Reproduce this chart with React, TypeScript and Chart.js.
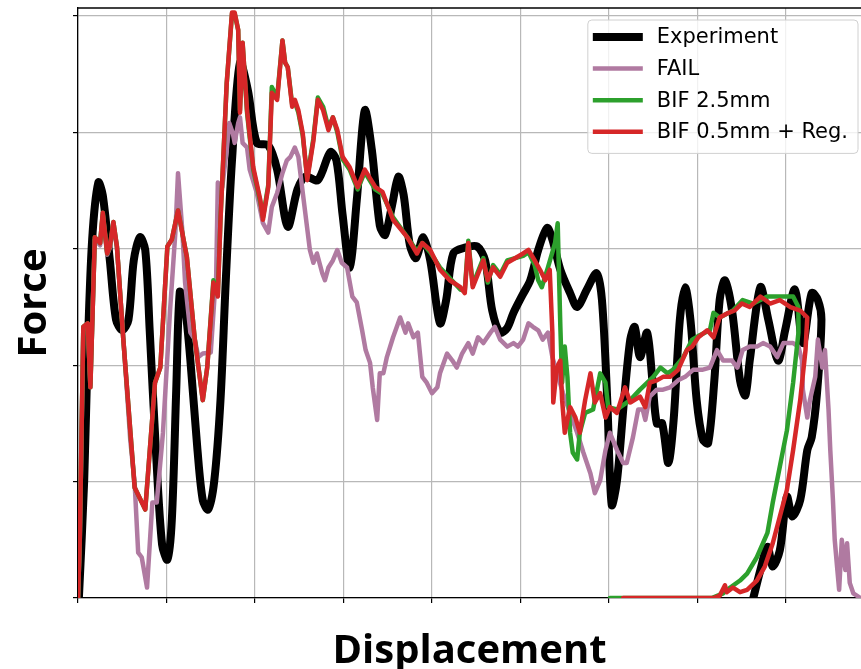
import React, { useEffect, useRef } from 'react';
import { Chart, registerables } from 'chart.js';

Chart.register(...registerables);

// Displacement / Force pairs (x: 10 units per grid step, y: 10 units per grid step)
const EXPERIMENT: [number, number][] = [
  [0.1, 0], [0.7, 10.1], [1.1, 21.3], [1.6, 30.8], [2.3, 35.7], [2.8, 34.6], [3.6, 29.0], [4.3, 23.9], [5.0, 23.0], [5.7, 23.9],
  [6.3, 29.0], [7.0, 31.0], [7.6, 29.9], [8.1, 23.0], [8.8, 12.7], [9.5, 4.6], [10.1, 3.3], [10.6, 6.7], [11.1, 17.9], [11.5, 26.3],
  [12.0, 25.6], [12.7, 20.4], [13.5, 12.7], [14.1, 8.4], [14.7, 7.6], [15.4, 10.1], [16.1, 17.0], [16.7, 27.3], [17.4, 37.6], [18.3, 46.0],
  [19.2, 43.6], [20.2, 39.1], [21.5, 38.9], [22.5, 36.8], [23.7, 31.9], [24.8, 35.1], [25.7, 36.2], [27.1, 35.9], [28.5, 38.3], [29.2, 37.6],
  [29.9, 32.9], [30.7, 28.4], [31.5, 34.2], [32.4, 41.9], [33.2, 38.5], [34.1, 32.0], [34.7, 31.2], [35.5, 33.8], [36.2, 36.2], [36.8, 34.6],
  [37.5, 30.3], [38.2, 29.2], [39.0, 31.0], [39.8, 29.0], [40.9, 23.6], [41.6, 25.6], [42.4, 29.6], [43.7, 30.1], [45.1, 30.2], [46.0, 29.0],
  [46.8, 24.7], [47.7, 22.8], [48.5, 23.2], [49.2, 24.5], [50.2, 26.0], [51.1, 27.3], [52.0, 29.9], [53.0, 31.8], [53.6, 30.8], [54.5, 28.2],
  [55.6, 26.2], [56.4, 25.0], [57.5, 26.5], [58.6, 27.9], [59.2, 25.6], [59.8, 17.0], [60.3, 8.0], [60.9, 10.1], [61.7, 17.0], [62.4, 22.2],
  [62.9, 23.3], [63.5, 20.7], [64.3, 22.8], [64.9, 18.7], [65.4, 15.0], [66.0, 15.0], [66.7, 11.6], [67.3, 15.3], [68.0, 23.9], [68.6, 26.7],
  [69.2, 23.9], [69.9, 17.0], [70.6, 13.6], [71.2, 13.3], [71.9, 18.7], [72.5, 25.6], [73.1, 27.3], [73.9, 24.7], [74.8, 18.7], [75.4, 17.4],
  [75.9, 20.4], [77.1, 26.7], [78.0, 23.9], [79.1, 20.4], [79.9, 23.0], [81.0, 26.5], [81.9, 21.9], [82.9, 26.2], [83.6, 25.6], [84.0, 23.9],
  [83.5, 17.6], [82.9, 13.8], [82.4, 12.7], [81.6, 8.4], [80.7, 7.0], [80.1, 8.7], [79.3, 4.1], [78.5, 2.7], [77.9, 4.4], [77.1, 2.4], [76.3, 0],
];

const FAIL: [number, number][] = [
  [0, 0], [0.2, 5.0], [0.6, 23.0], [1.1, 23.5], [1.4, 18.3], [1.9, 30.8], [2.5, 30.3], [2.8, 32.9], [3.3, 29.5], [3.6, 30.1],
  [4.0, 32.0], [4.4, 30.1], [5.1, 22.6], [5.9, 13.6], [6.4, 9.9], [6.8, 3.9], [7.2, 3.5], [7.8, 0.9], [8.4, 8.2], [8.9, 8.2],
  [9.6, 14.2], [10.4, 24.7], [11.0, 31.4], [11.3, 36.5], [11.8, 31.4], [12.1, 27.1], [12.7, 22.8], [13.2, 22.2], [13.6, 20.7], [14.1, 21.0],
  [15.0, 21.1], [15.4, 25.6], [15.6, 27.1], [15.8, 35.7], [16.3, 35.3], [16.8, 38.5], [17.1, 40.8], [17.5, 39.9], [17.7, 39.1], [18.1, 40.8],
  [18.3, 41.3], [18.6, 39.1], [19.1, 38.7], [19.4, 36.8], [20.2, 34.8], [20.9, 32.2], [21.5, 31.4], [21.9, 33.6], [22.5, 34.8], [23.1, 36.5],
  [23.6, 37.6], [24.0, 37.9], [24.5, 38.7], [24.9, 37.9], [25.4, 34.8], [26.2, 29.9], [26.6, 28.8], [27.0, 29.6], [27.6, 27.9], [27.9, 27.3],
  [28.3, 28.4], [28.8, 29.0], [29.3, 29.9], [29.8, 28.8], [30.4, 28.4], [31.0, 25.9], [31.5, 25.4], [32.1, 23.0], [32.5, 21.3], [33.0, 20.2],
  [33.3, 18.1], [33.8, 15.3], [34.1, 19.3], [34.5, 19.3], [34.9, 20.7], [35.6, 22.4], [36.4, 24.1], [37.0, 22.8], [37.3, 23.6], [37.9, 22.4],
  [38.4, 22.8], [38.9, 19.0], [39.4, 18.5], [40.0, 17.6], [40.6, 18.1], [40.9, 19.3], [41.7, 21.0], [42.3, 20.4], [42.8, 19.8], [43.4, 21.0],
  [44.1, 21.9], [44.6, 21.0], [45.2, 22.4], [45.8, 21.9], [46.6, 22.8], [47.1, 23.3], [47.7, 22.2], [48.5, 21.6], [49.2, 21.9], [49.7, 21.6],
  [50.3, 22.2], [50.9, 23.6], [51.4, 23.3], [52.0, 23.0], [52.5, 22.2], [53.1, 22.8], [53.6, 20.7], [54.1, 19.4], [54.8, 17.6], [55.6, 15.9],
  [56.4, 14.2], [57.1, 12.5], [57.9, 10.7], [58.4, 9.0], [59.0, 10.1], [59.6, 12.7], [60.1, 14.2], [60.9, 12.7], [61.6, 11.6], [62.0, 11.6],
  [62.7, 13.8], [63.3, 16.2], [63.8, 16.2], [64.1, 15.3], [64.6, 17.3], [65.4, 17.9], [66.1, 17.9], [66.9, 18.1], [67.8, 18.7], [68.6, 19.0],
  [69.5, 19.6], [70.5, 19.6], [71.4, 19.8], [72.2, 21.3], [72.9, 20.4], [73.9, 20.4], [74.5, 19.8], [75.1, 21.3], [75.9, 21.6], [76.7, 21.6],
  [77.4, 21.9], [78.2, 21.6], [79.0, 20.7], [79.7, 21.9], [80.8, 21.9], [81.4, 21.6], [81.8, 20.4], [81.9, 17.9], [82.4, 15.5], [82.7, 17.0],
  [83.3, 19.0], [83.6, 22.2], [84.1, 19.8], [84.4, 21.3], [84.8, 16.2], [85.0, 12.7], [85.3, 8.4], [85.5, 5.0], [85.8, 2.4], [86.0, 0.7],
  [86.3, 5.0], [86.4, 4.4], [86.7, 2.4], [86.9, 4.7], [87.2, 1.3], [87.6, 0.4], [88.4, 0],
];

const BIF_25: [number, number][] = [
  [0, 0], [0.2, 5.0], [0.6, 23.3], [1.1, 23.6], [1.4, 18.1], [1.9, 31.0], [2.5, 30.5], [2.8, 33.1], [3.3, 29.6], [3.6, 30.2],
  [4.0, 32.3], [4.4, 30.2], [5.1, 22.4], [6.4, 9.5], [7.6, 7.6], [8.7, 18.5], [9.3, 19.8], [10.1, 30.2], [10.6, 30.8], [11.3, 33.3],
  [12.3, 29.3], [13.2, 22.2], [14.1, 17.0], [14.6, 19.8], [15.3, 27.3], [15.8, 26.1], [16.1, 32.5], [16.8, 44.2], [17.4, 50.2], [17.7, 50.2],
  [18.1, 48.8], [18.3, 41.9], [18.6, 47.7], [19.1, 41.7], [19.8, 36.8], [20.6, 34.0], [20.9, 32.7], [21.5, 35.5], [21.9, 43.9], [22.5, 43.0],
  [23.1, 47.9], [23.4, 46.0], [23.7, 45.6], [24.2, 42.4], [24.5, 42.6], [24.9, 41.7], [25.4, 39.7], [25.9, 36.1], [26.6, 39.5], [27.1, 43.0],
  [27.7, 42.2], [28.3, 40.4], [28.8, 41.3], [29.3, 40.0], [29.9, 37.7], [30.7, 36.8], [31.6, 35.1], [32.4, 36.6], [33.6, 35.1], [34.4, 34.7],
  [35.6, 32.7], [37.2, 31.0], [38.3, 29.8], [38.9, 30.5], [39.8, 29.7], [40.9, 28.4], [42.0, 27.5], [43.2, 26.5], [43.7, 26.4], [44.1, 30.7],
  [44.6, 26.9], [45.8, 29.2], [46.3, 27.1], [46.9, 28.6], [47.7, 27.8], [48.5, 29.0], [50.3, 29.4], [50.9, 29.7], [51.6, 28.6], [52.0, 27.3],
  [52.4, 26.7], [53.1, 28.4], [53.9, 30.5], [54.2, 32.2], [54.5, 23.3], [54.7, 18.5], [55.0, 21.6], [55.3, 19.0], [55.6, 14.2], [55.9, 12.5],
  [56.4, 11.9], [56.7, 14.2], [57.3, 15.9], [58.2, 16.2], [59.0, 19.3], [59.6, 18.5], [59.9, 16.4], [60.9, 16.2], [62.4, 17.0], [63.5, 17.9],
  [65.0, 19.0], [65.8, 19.8], [66.6, 19.3], [67.2, 19.6], [68.4, 20.7], [69.4, 22.2], [70.3, 22.6], [71.4, 23.0], [71.8, 24.5], [72.5, 24.1],
  [74.0, 24.7], [75.1, 25.6], [76.3, 25.3], [77.9, 25.9], [79.7, 25.9], [80.8, 25.9], [81.4, 25.0], [81.4, 22.8], [80.8, 18.5], [80.1, 14.4],
  [79.3, 11.3], [78.5, 8.2], [77.9, 5.6], [76.7, 3.5], [75.6, 2.1], [74.8, 1.5], [73.7, 0.9], [72.9, 0.4], [71.6, 0], [60.1, 0],
];

const BIF_05_REG: [number, number][] = [
  [0, 0], [0.2, 5.0], [0.6, 23.3], [1.1, 23.6], [1.4, 18.1], [1.9, 31.0], [2.5, 30.5], [2.8, 33.1], [3.3, 29.6], [3.6, 30.2],
  [4.0, 32.3], [4.4, 30.2], [5.1, 22.4], [6.4, 9.5], [7.6, 7.6], [8.7, 18.5], [9.3, 19.8], [10.1, 30.2], [10.6, 30.8], [11.3, 33.3],
  [12.3, 29.3], [13.2, 22.2], [14.1, 17.0], [14.6, 19.8], [15.3, 27.1], [15.8, 25.9], [16.1, 32.5], [16.8, 44.2], [17.4, 50.3], [17.7, 50.3],
  [18.1, 48.8], [18.3, 41.7], [18.6, 47.7], [19.1, 41.9], [19.8, 37.0], [20.6, 34.2], [20.9, 32.5], [21.5, 35.3], [21.9, 43.4], [22.5, 42.8],
  [23.1, 47.9], [23.4, 46.0], [23.7, 45.6], [24.2, 42.2], [24.5, 42.8], [24.9, 41.9], [25.4, 39.9], [25.9, 35.9], [26.6, 39.3], [27.1, 42.8],
  [27.7, 41.9], [28.3, 40.2], [28.8, 41.3], [29.3, 40.2], [29.9, 37.9], [30.7, 37.0], [31.6, 35.3], [32.4, 36.8], [33.6, 35.3], [34.4, 34.9],
  [35.6, 32.5], [37.2, 31.0], [38.3, 29.6], [38.9, 30.5], [39.8, 29.9], [40.9, 28.2], [42.0, 27.3], [43.2, 26.7], [43.7, 26.2], [44.1, 30.5],
  [44.6, 26.7], [45.8, 29.0], [46.3, 27.3], [46.9, 28.4], [47.7, 27.6], [48.5, 28.8], [50.3, 29.6], [50.9, 29.9], [51.6, 29.0], [52.2, 28.2],
  [52.8, 27.3], [53.3, 28.2], [53.6, 22.8], [53.7, 16.8], [54.1, 19.8], [54.5, 20.4], [54.7, 17.0], [55.0, 14.2], [55.6, 16.4], [56.2, 15.5],
  [56.7, 14.2], [57.3, 17.0], [57.9, 19.3], [58.4, 16.8], [59.0, 17.6], [59.6, 15.5], [60.1, 16.4], [60.9, 15.9], [61.8, 18.1], [62.4, 16.8],
  [63.5, 17.3], [64.1, 16.4], [64.6, 18.5], [65.4, 18.7], [66.1, 19.0], [66.9, 19.0], [67.8, 19.6], [68.8, 21.3], [69.4, 21.6], [70.1, 22.4],
  [71.1, 23.0], [71.8, 22.4], [72.5, 24.1], [73.5, 24.5], [74.2, 24.7], [75.0, 25.3], [75.9, 25.0], [77.1, 25.9], [78.2, 25.3], [79.3, 25.6],
  [80.5, 25.0], [81.6, 24.7], [82.4, 24.1], [82.2, 21.3], [81.6, 17.0], [80.8, 12.7], [80.1, 9.3], [79.3, 7.0], [78.5, 4.7], [77.6, 2.7],
  [76.7, 1.5], [75.6, 0.7], [74.8, 0.5], [74.0, 0.9], [73.3, 0.5], [73.1, 1.1], [72.5, 0.2], [71.8, 0], [61.6, 0],
];

const SERIES_LABELS = ['Experiment', 'FAIL', 'BIF 2.5mm', 'BIF 0.5mm + Reg.'];
const X_TITLE = 'Displacement';
const Y_TITLE = 'Force';

const toPoints = (arr: [number, number][]) => arr.map(([x, y]) => ({ x, y }));

const frameTopPlugin = {
  id: 'frameTop',
  beforeDatasetsDraw(chart: any) {
    const { ctx, chartArea } = chart;
    ctx.save();
    ctx.strokeStyle = '#000';
    ctx.lineWidth = 1.3;
    ctx.beginPath();
    ctx.moveTo(chartArea.left, chartArea.top);
    ctx.lineTo(chartArea.right, chartArea.top);
    ctx.stroke();
    ctx.restore();
  },
};

const boxLegendPlugin = {
  id: 'boxLegend',
  afterDraw(chart: any) {
    const { ctx, chartArea } = chart;
    const ds = chart.data.datasets;
    ctx.save();
    ctx.font = '21px "DejaVu Sans"';
    const maxW = Math.max(...ds.map((d: any) => ctx.measureText(d.label).width));
    const padL = 5, lineLen = 50, gap = 14, padR = 10, rowH = 31.6;
    const boxW = padL + lineLen + gap + maxW + padR;
    const boxH = rowH * ds.length + 7;
    const right = chartArea.right - 3;
    const top = chartArea.top + 12;
    const left = right - boxW;
    ctx.beginPath();
    ctx.roundRect(left, top, boxW, boxH, 4);
    ctx.fillStyle = 'rgba(255,255,255,0.8)';
    ctx.fill();
    ctx.strokeStyle = '#d0d0d0';
    ctx.lineWidth = 1;
    ctx.stroke();
    ds.forEach((d: any, i: number) => {
      const cy = top + 17 + i * rowH;
      ctx.beginPath();
      ctx.strokeStyle = d.borderColor;
      ctx.lineWidth = d.borderWidth;
      ctx.lineCap = 'butt';
      ctx.moveTo(left + padL, cy);
      ctx.lineTo(left + padL + lineLen, cy);
      ctx.stroke();
      ctx.fillStyle = '#000';
      ctx.textBaseline = 'middle';
      ctx.textAlign = 'left';
      ctx.fillText(d.label, left + padL + lineLen + gap, cy + 1);
    });
    ctx.restore();
  },
};

export default function App() {
  const ref = useRef<HTMLCanvasElement>(null);

  useEffect(() => {
    if (!ref.current) return;
    const common = {
      pointRadius: 0,
      pointHoverRadius: 0,
      fill: false,
      borderJoinStyle: 'round' as const,
      borderCapStyle: 'round' as const,
    };
    const chart = new Chart(ref.current, {
      type: 'line',
      data: {
        datasets: [
          { ...common, label: SERIES_LABELS[0], data: toPoints(EXPERIMENT), borderColor: '#000000', borderWidth: 8, tension: 0.3, order: 4 },
          { ...common, label: SERIES_LABELS[1], data: toPoints(FAIL), borderColor: '#b07aa1', borderWidth: 4.5, tension: 0, order: 3 },
          { ...common, label: SERIES_LABELS[2], data: toPoints(BIF_25), borderColor: '#2ca02c', borderWidth: 4.5, tension: 0, order: 2 },
          { ...common, label: SERIES_LABELS[3], data: toPoints(BIF_05_REG), borderColor: '#d62728', borderWidth: 4.5, tension: 0, order: 1 },
        ],
      },
      options: {
        responsive: false,
        maintainAspectRatio: false,
        animation: false,
        events: [],
        layout: { padding: { top: 8, left: 0, right: 0, bottom: 0 } },
        plugins: {
          legend: { display: false },
          tooltip: { enabled: false },
        },
        scales: {
          x: {
            type: 'linear',
            min: 0,
            max: 88.47,
            ticks: { display: false, stepSize: 10, includeBounds: false },
            grid: { color: '#b8b8b8', lineWidth: 1.2, drawTicks: true, tickLength: 5, tickColor: '#000', tickWidth: 1.2 },
            border: { display: true, color: '#000', width: 1.3 },
            title: {
              display: true,
              text: X_TITLE,
              color: '#000',
              font: { family: '"Open Sans"', weight: 'bold', size: 40, lineHeight: 0.85 },
              padding: { top: 0, bottom: 0 },
            },
            afterFit(scale: any) { scale.height = 71; },
          },
          y: {
            type: 'linear',
            min: 0,
            max: 50.69,
            ticks: { display: false, stepSize: 10, includeBounds: false },
            grid: { color: '#b8b8b8', lineWidth: 1.2, drawTicks: true, tickLength: 5, tickColor: '#000', tickWidth: 1.2 },
            border: { display: true, color: '#000', width: 1.3 },
            title: {
              display: true,
              text: Y_TITLE,
              color: '#000',
              font: { family: '"Open Sans"', weight: 'bold', size: 40, lineHeight: 1.2 },
              padding: { top: 11, bottom: 0 },
            },
            afterFit(scale: any) { scale.width = 78; },
          },
        },
      },
      plugins: [frameTopPlugin, boxLegendPlugin],
    } as any);
    return () => chart.destroy();
  }, []);

  return (
    <div style={{ position: 'fixed', left: 0, top: 0, width: 861, height: 669, background: '#fff' }}>
      <canvas ref={ref} width={861} height={669} style={{ display: 'block', width: 861, height: 669 }} />
    </div>
  );
}
